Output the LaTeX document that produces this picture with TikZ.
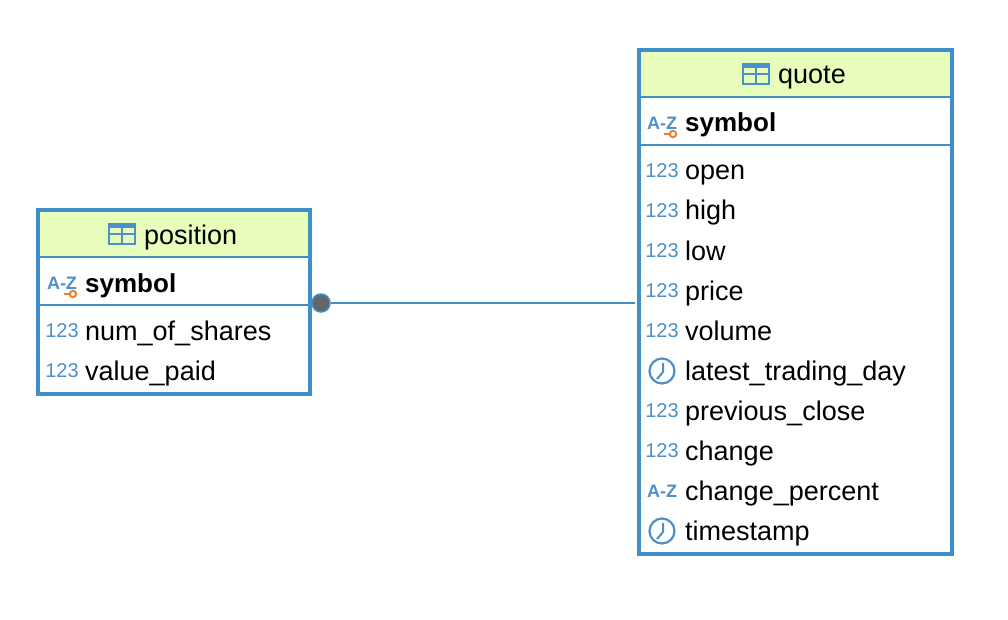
\documentclass[tikz,border=0pt]{standalone}
\usepackage{fontspec}
\setmainfont{Liberation Sans}
\definecolor{tableblue}{HTML}{3F8FCB}
\definecolor{iconblue}{HTML}{4D8FC9}
\definecolor{headgreen}{HTML}{E9FDBB}
\definecolor{keyorange}{HTML}{E8812F}
\tikzset{
	x=1pt,y=-1pt,
	tablebox/.style={draw=tableblue,line width=4pt,inner sep=0pt},
	headbox/.style={fill=headgreen,inner sep=0pt},
	rowtext/.style={anchor=base west,inner sep=0pt,font=\fontsize{27}{27}\selectfont},
	keytext/.style={rowtext,font=\fontsize{26}{26}\selectfont\bfseries},
	icontext/.style={inner sep=0pt,text=iconblue,font=\fontsize{20}{20}\selectfont},
	pics/numicon/.style={code={\node[icontext] (-n) at (0,0) {123};}},
	pics/azicon/.style={code={\node[icontext,font=\fontsize{18}{18}\selectfont\bfseries] (-n) at (0,0) {A-Z};}},
	pics/clockicon/.style={code={
		\draw[iconblue,line width=2.2pt] (0,0) circle (12.5);
		\draw[iconblue,line width=2pt] (1,-8)--(1,1)--(-5,8);
	}},
	pics/keyicon/.style={code={
		\draw[keyorange,line width=2pt] (0,0) circle (3.2);
		\draw[keyorange,line width=2pt] (-3,0)--(-9,0);
	}},
	pics/tableicon/.style={code={
		\fill[iconblue] (-14,-11) rectangle (14,-6);
		\draw[iconblue,line width=2pt] (-13,-10) rectangle (13,10) (-13,0)--(13,0) (0,-10)--(0,10);
	}},
}
\begin{document}
\begin{tikzpicture}
	\useasboundingbox (0,0) rectangle (1008,620);
	% position table
	\node[headbox,minimum width=272pt,minimum height=47pt] (positionhead) at (174,233.5) {};
	\draw[tableblue,line width=2pt] (38,257)--(310,257) (38,305)--(310,305);
	\node[tablebox,minimum width=272pt,minimum height=184pt] (positionbox) at (174,302) {};
	\pic at (122,234) {tableicon};
	\node[rowtext] (positiontitle) at (144,244) {position};
	\pic at (62,283) {azicon};
	\pic at (73,294) {keyicon};
	\node[keytext] (positionkey) at (85,292) {symbol};
	\foreach \y/\name in {331/num_of_shares,371/value_paid}{
		\pic at (62,\y) {numicon};
		\node[rowtext] (position\y) at (85,\y+9) {\detokenize\expandafter{\name}};
	}
	% quote table
	\node[headbox,minimum width=313pt,minimum height=47pt] (quotehead) at (795.5,73.5) {};
	\draw[tableblue,line width=2pt] (639,97)--(952,97) (639,145)--(952,145);
	\node[tablebox,minimum width=313pt,minimum height=504pt] (quotebox) at (795.5,302) {};
	\pic at (756,74) {tableicon};
	\node[rowtext] (quotetitle) at (778,84) {quote};
	\pic at (662,123) {azicon};
	\pic at (673,134) {keyicon};
	\node[keytext] (quotekey) at (685,132) {symbol};
	\foreach \y/\kind/\name in {171/numicon/open,211/numicon/high,251/numicon/low,291/numicon/price,331/numicon/volume,371/clockicon/latest_trading_day,411/numicon/previous_close,451/numicon/change,491/azicon/change_percent,531/clockicon/timestamp}{
		\pic at (662,\y) {\kind};
		\node[rowtext] (quote\y) at (685,\y+9) {\detokenize\expandafter{\name}};
	}
	% relation
	\node[circle,fill=black!60,draw=tableblue,line width=1.5pt,minimum size=18pt,inner sep=0pt] (linkdot) at (321,303) {};
	\coordinate (linkend) at (635,303);
	\draw[tableblue,line width=2pt] (linkdot)--(linkend);
\end{tikzpicture}
\end{document}
